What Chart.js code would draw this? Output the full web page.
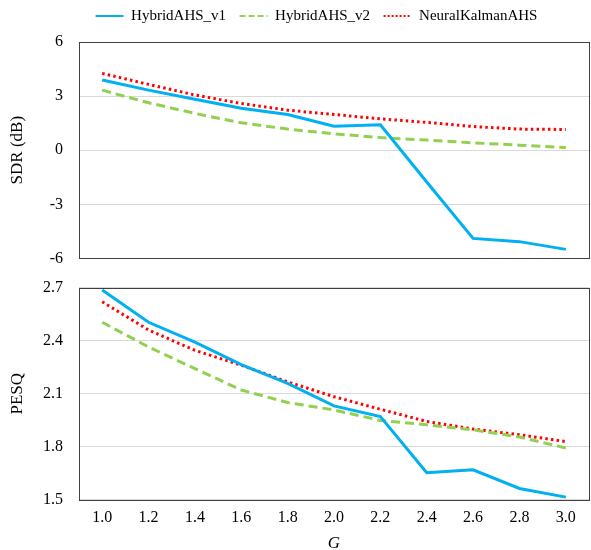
<!DOCTYPE html>
<html>
<head>
<meta charset="utf-8">
<script src="https://cdn.jsdelivr.net/npm/chart.js@4"></script>
<style>
  body { margin: 0; background: #fff; }
  .panel { position: absolute; left: 0; }
</style>
</head>
<body>
<div class="panel" style="top:0"><canvas id="sdrChart" width="591" height="284"></canvas></div>
<div class="panel" style="top:262px"><canvas id="pesqChart" width="591" height="290"></canvas></div>
<script>
const gValues = ['1.0', '1.2', '1.4', '1.6', '1.8', '2.0', '2.2', '2.4', '2.6', '2.8', '3.0'];

const sdrV1 = [3.89, 3.33, 2.83, 2.33, 1.98, 1.33, 1.41, -1.76, -4.89, -5.07, -5.5];
const sdrV2 = [3.33, 2.63, 2.04, 1.52, 1.17, 0.91, 0.70, 0.56, 0.41, 0.28, 0.15];
const sdrKalman = [4.26, 3.65, 3.06, 2.59, 2.22, 1.98, 1.74, 1.54, 1.31, 1.17, 1.15];

const pesqV1 = [2.687, 2.504, 2.392, 2.264, 2.158, 2.031, 1.971, 1.653, 1.670, 1.564, 1.515];
const pesqV2 = [2.504, 2.364, 2.242, 2.121, 2.050, 2.008, 1.949, 1.924, 1.896, 1.855, 1.793];
const pesqKalman = [2.620, 2.460, 2.345, 2.261, 2.167, 2.083, 2.012, 1.943, 1.900, 1.868, 1.829];

const seriesNames = ['HybridAHS_v1', 'HybridAHS_v2', 'NeuralKalmanAHS'];
const sdrTicks = [-6, -3, 0, 3, 6];
const pesqTicks = [1.5, 1.8, 2.1, 2.4, 2.7];

const serif = 'Liberation Serif';

// box round the plot area
const frame = {
  id: 'frame',
  afterDatasetsDraw(chart) {
    const a = chart.chartArea;
    const ctx = chart.ctx;
    ctx.save();
    ctx.strokeStyle = '#404040';
    ctx.lineWidth = 1;
    ctx.strokeRect(Math.round(a.left) + 0.5, Math.round(a.top) + 0.5, Math.round(a.right - a.left), Math.round(a.bottom - a.top));
    ctx.restore();
  }
};

// legend: fixed height, nudged right and up
const legendFix = {
  id: 'legendFix',
  beforeLayout(chart) {
    const lg = chart.legend;
    if (lg && !lg._patched) {
      const fit = lg.fit;
      lg.fit = function () { fit.call(this); this.height = 42; };
      lg._patched = true;
    }
  },
  afterLayout(chart) {
    const lg = chart.legend;
    lg.left += 22; lg.right += 22;
    lg.top -= 5; lg.bottom -= 5;
  }
};

function makeSets(v1, v2, kalman) {
  return [
    { label: seriesNames[0], data: v1, borderColor: '#00b0f0', backgroundColor: '#00b0f0', borderWidth: 3, pointRadius: 0 },
    { label: seriesNames[1], data: v2, borderColor: '#92d050', backgroundColor: '#92d050', borderWidth: 3, borderDash: [9, 5], pointRadius: 0 },
    { label: seriesNames[2], data: kalman, borderColor: '#ff0000', backgroundColor: '#ff0000', borderWidth: 3, borderDash: [2.5, 3.2], pointRadius: 0 }
  ];
}

const legendDash = [[], [6, 3], [2, 2]];

function yAxis(title, ticks) {
  return {
    min: ticks[0],
    max: ticks[ticks.length - 1],
    afterBuildTicks: s => { s.ticks = ticks.map(v => ({ value: v })); },
    afterFit: s => { s.width = 79; },
    grid: { color: '#d9d9d9', drawTicks: false },
    border: { display: false },
    ticks: {
      color: '#000',
      padding: 16,
      font: { family: serif, size: 16 },
      callback: v => title === 'PESQ' ? v.toFixed(1) : String(v)
    },
    title: { display: true, text: title, color: '#000', font: { family: serif, size: 17 }, padding: { top: 7, bottom: 0 } }
  };
}

Chart.defaults.animation = false;

new Chart(document.getElementById('sdrChart'), {
  type: 'line',
  data: { labels: gValues, datasets: makeSets(sdrV1, sdrV2, sdrKalman) },
  options: {
    responsive: false,
    layout: { padding: { left: 0, right: 2, top: 0, bottom: 8 } },
    plugins: {
      legend: {
        position: 'top',
        labels: {
          usePointStyle: true,
          pointStyle: 'line',
          pointStyleWidth: 28,
          boxHeight: 3,
          color: '#000',
          padding: 13.5,
          font: { family: serif, size: 15 },
          generateLabels: chart => Chart.defaults.plugins.legend.labels.generateLabels(chart).map((item, i) => ({
            ...item,
            lineDash: legendDash[i],
            lineWidth: 2,
            strokeStyle: chart.data.datasets[i].borderColor
          }))
        }
      },
      tooltip: { enabled: false }
    },
    scales: {
      x: { display: false, offset: true },
      y: yAxis('SDR (dB)', sdrTicks)
    }
  },
  plugins: [frame, legendFix]
});

new Chart(document.getElementById('pesqChart'), {
  type: 'line',
  data: { labels: gValues, datasets: makeSets(pesqV1, pesqV2, pesqKalman) },
  options: {
    responsive: false,
    layout: { padding: { left: 0, right: 2, top: 9, bottom: 0 } },
    plugins: { legend: { display: false }, tooltip: { enabled: false } },
    scales: {
      x: {
        offset: true,
        grid: { display: false, drawTicks: false },
        border: { display: false },
        ticks: { color: '#000', padding: 8, font: { family: serif, size: 16 } },
        title: { display: true, text: 'G', color: '#000', font: { family: serif, size: 17, style: 'italic', lineHeight: 1 }, padding: { top: 0, bottom: 0 } }
      },
      y: yAxis('PESQ', pesqTicks)
    }
  },
  plugins: [frame]
});
</script>
</body>
</html>
